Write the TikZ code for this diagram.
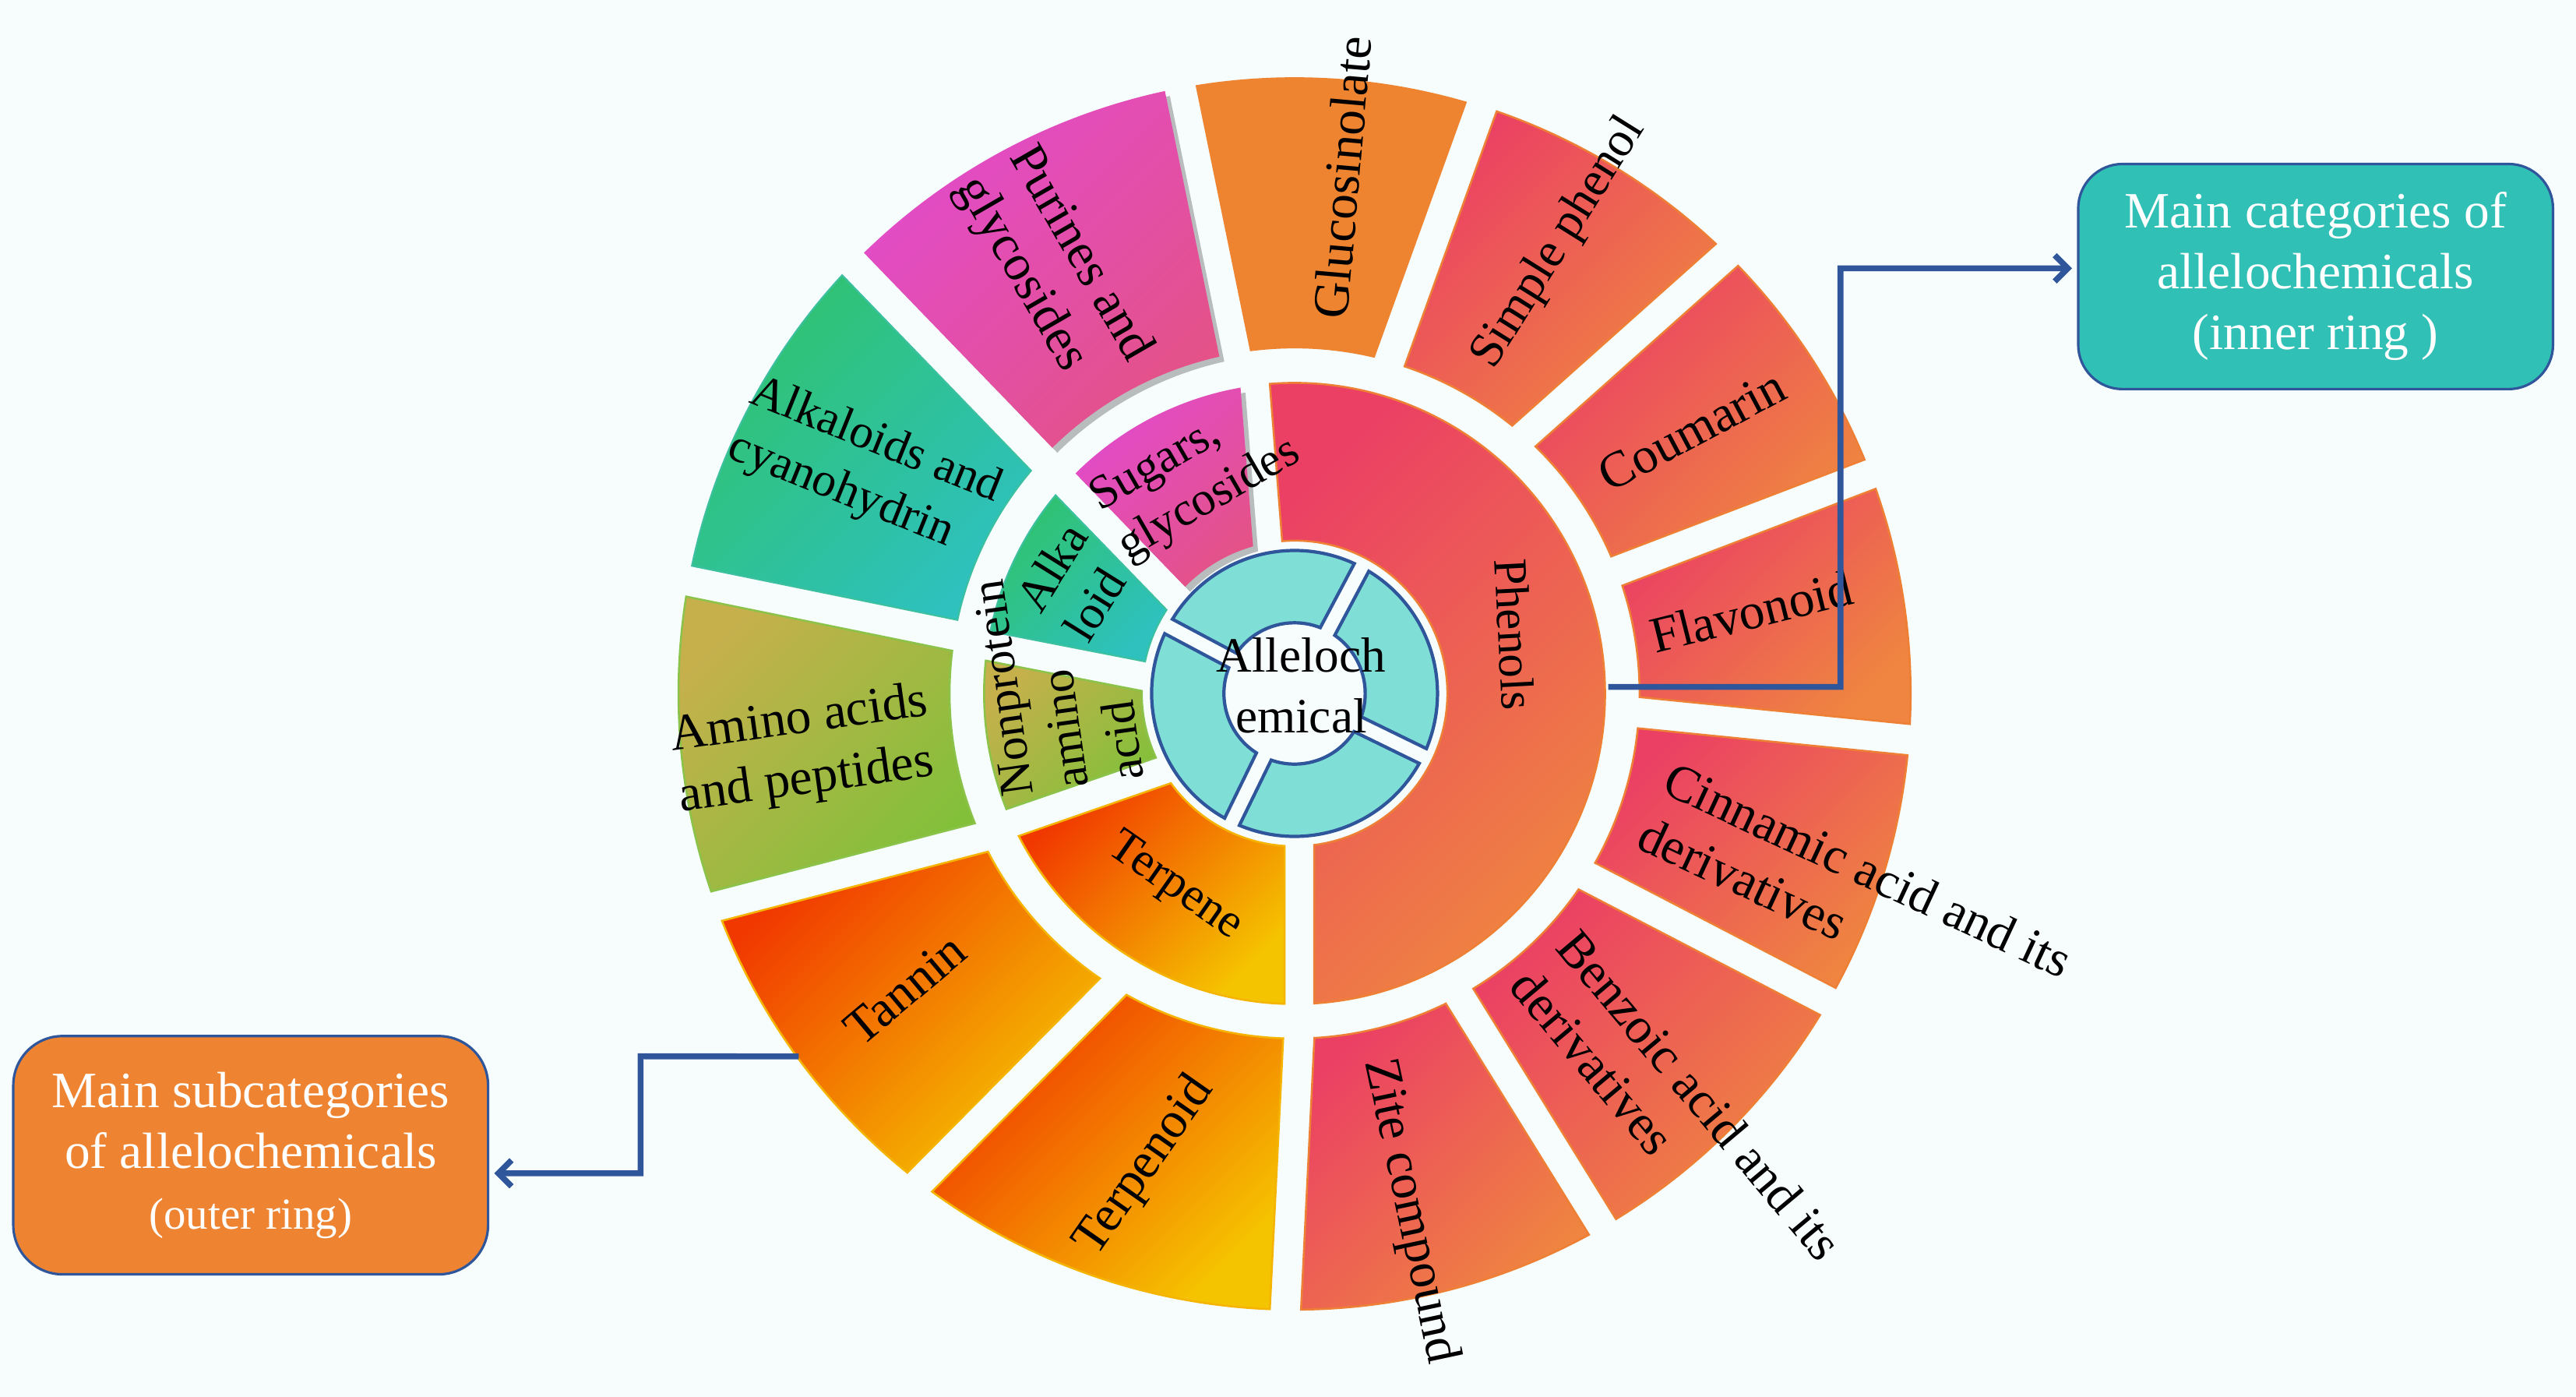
\documentclass[tikz,border=0pt]{standalone}
\usepackage{fontspec}
\setmainfont{Liberation Serif}
\usetikzlibrary{arrows.meta,shadows,calc}

\definecolor{bg}{HTML}{F7FCFD}
\definecolor{redA}{HTML}{EB4064}
\definecolor{redB}{HTML}{EF8540}
\definecolor{redline}{HTML}{EE8035}
\definecolor{magA}{HTML}{E24BCC}
\definecolor{magB}{HTML}{E45288}
\definecolor{grnA}{HTML}{2FC26E}
\definecolor{grnB}{HTML}{2EC1BE}
\definecolor{grnline}{HTML}{3CC0A0}
\definecolor{oliA}{HTML}{C6B04C}
\definecolor{oliB}{HTML}{82C03A}
\definecolor{oliline}{HTML}{8BC34A}
\definecolor{orA}{HTML}{F13800}
\definecolor{orB}{HTML}{F5C400}
\definecolor{orline}{HTML}{F4B400}
\definecolor{gluc}{HTML}{EE8430}
\definecolor{tealfill}{HTML}{7FDFD6}
\definecolor{navy}{HTML}{2F559B}
\definecolor{boxteal}{HTML}{31C0B6}
\definecolor{boxorange}{HTML}{EE8432}

\newcommand\halfgap{9}
% annular sector between two gaps; each gap given by its centre angle at the
% inner radius and at the outer radius: style, a1in, a1out, a2in, a2out, rin, rout
\newcommand\annsec[7]{%
  \pgfmathsetmacro\secdin{asin(\halfgap/#6)}%
  \pgfmathsetmacro\secdout{asin(\halfgap/#7)}%
  \path[#1] ({#3+\secdout}:#7) arc[start angle={#3+\secdout}, end angle={#5-\secdout}, radius=#7]
     -- ({#4-\secdin}:#6) arc[start angle={#4-\secdin}, end angle={#2+\secdin}, radius=#6] -- cycle;
}

\begin{document}
\begin{tikzpicture}[x=1pt,y=1pt,
  redseg/.style={top color=redA, bottom color=redB, shading angle=45, draw=redline, line width=1.2},
  magseg/.style={top color=magA, bottom color=magB, shading angle=45},
  grnseg/.style={top color=grnA, bottom color=grnB, shading angle=45, draw=grnline, line width=1},
  oliseg/.style={top color=oliA, bottom color=oliB, shading angle=45, draw=oliline, line width=1.2},
  orseg/.style={top color=orA, bottom color=orB, shading angle=45, draw=orline, line width=1.2},
  glucseg/.style={fill=gluc},
  tealseg/.style={fill=tealfill, draw=navy, line width=2},
  shadowed/.style={drop shadow={shadow xshift=3pt, shadow yshift=-3pt, opacity=0.25, fill=black}},
  olbl/.style={font=\fontsize{31}{37}\selectfont, inner sep=0pt, align=left},
  mlbl/.style={font=\fontsize{29}{34}\selectfont, inner sep=0pt, align=left},
  clbl/.style={font=\fontsize{30}{37}\selectfont, inner sep=0pt, align=center},
  boxbase/.style={rounded corners=27pt, line width=1.5pt, draw=navy, text=white,
     font=\fontsize{31}{37}\selectfont, align=center, minimum width=289pt, inner sep=0pt},
  conn/.style={draw=navy, line width=3.6pt, -{Straight Barb[length=8pt,width=16pt]}, shorten >=3pt}
]
\useasboundingbox (-788,-428) rectangle (780,422);
\fill[bg] (-788,-428) rectangle (780,422);

% outer ring (gaps: inner angle / outer angle)
\renewcommand\halfgap{9.5}
\annsec{glucseg}{74}{72.3}{100}{100.7}{210}{375}
\annsec{redseg}{48.3}{45.4}{74}{72.3}{210}{375}
\annsec{redseg}{20.8}{20.85}{48.3}{45.4}{210}{375}
\annsec{redseg}{-3.2}{-4.3}{20.8}{20.85}{210}{375}
\annsec{redseg}{-32}{-30}{-3.2}{-4.3}{210}{375}
\annsec{redseg}{-61.4}{-60}{-32}{-30}{210}{375}
\annsec{redseg}{-89.3}{-90.85}{-61.4}{-60}{210}{375}
\annsec{orseg}{-121.75}{-127.5}{-89.3}{-90.85}{210}{375}
\annsec{orseg}{-155.3}{-159.8}{-121.75}{-127.5}{210}{375}
\annsec{oliseg}{170.3}{169.5}{204.7}{200.2}{210}{375}
\annsec{grnseg}{137.2}{135.8}{170.3}{169.5}{210}{375}
\annsec{magseg,shadowed}{100}{100.7}{137.2}{135.8}{210}{375}

% middle ring
\renewcommand\halfgap{9}
\annsec{redseg}{-88.2}{-89.1}{100.2}{97.3}{93}{189}
\annsec{magseg,shadowed}{100.2}{97.3}{141.3}{137.6}{93}{189}
\annsec{grnseg}{141.3}{137.6}{173.5}{171.2}{93}{189}
\annsec{oliseg}{173.5}{171.2}{210.4}{204.6}{93}{189}
\annsec{orseg}{210.4}{204.6}{271.8}{270.9}{93}{189}

% inner ring
\renewcommand\halfgap{5}
\annsec{tealseg}{62}{62}{152}{152}{43}{87}
\annsec{tealseg}{152}{152}{244}{244}{43}{87}
\annsec{tealseg}{244}{244}{334}{334}{43}{87}
\annsec{tealseg}{334}{334}{422}{422}{43}{87}

% outer labels
\node[olbl, rotate=85] (lglu) at (29,314) {Glucosinolate};
\node[olbl, rotate=58, font=\fontsize{30}{36}\selectfont] (lsph) at (161,274) {Simple phenol};
\node[olbl, rotate=28] (lcou) at (242,160) {Coumarin};
\node[olbl, rotate=14] (lfla) at (278,50) {Flavonoid};
\node[olbl, rotate=-25, anchor=west] (lcin) at (219,-67) {Cinnamic acid and its\\derivatives};
\node[olbl, rotate=-50, anchor=west] (lben) at (152,-160) {Benzoic acid and its\\derivatives};
\node[olbl, rotate=-78] (lzit) at (70,-315) {Zite compound};
\node[olbl, rotate=55] (ltpd) at (-91,-288) {Terpenoid};
\node[olbl, rotate=40] (ltan) at (-237,-180) {Tannin};
\node[olbl, rotate=8, anchor=west] (lami) at (-377,-46) {Amino acids\\and peptides};
\node[olbl, rotate=-22, anchor=west, font=\fontsize{29}{36}\selectfont] (lalk) at (-337,167) {Alkaloids and\\cyanohydrin};
\node[olbl, rotate=-60] (lpur) at (-147,258) {Purines and\\glycosides};

% middle labels
\node[mlbl, rotate=-87] (lphe) at (134,36) {Phenols};
\node[mlbl, rotate=30] (lsug) at (-60,132) {Sugars,\\glycosides};
\node[mlbl, rotate=58] (lalo) at (-133.5,68) {Alka\\loid};
\node[mlbl, rotate=98] (lnpa) at (-144,8) {Nonprotein\\amino\\acid};
\node[mlbl, rotate=-35] (lter) at (-73,-118) {Terpene};
\node[clbl] (lctr) at (4,5) {Alleloch\\emical};

% callout boxes
\node[boxbase, fill=boxteal, minimum height=137pt] (catbox) at (621.5,253.7)
  {Main categories of\\allelochemicals\\(inner ring )};
\node[boxbase, fill=boxorange, minimum height=145pt, rounded corners=30pt] (subbox) at (-635.4,-281)
  {Main subcategories\\of allelochemicals\\{\fontsize{27}{37}\selectfont (outer ring)}};

% connectors
\coordinate (ph) at (1.2:191);
\coordinate (el1) at (332.3,4);
\draw[conn] (ph) -- (el1) |- ([yshift=5pt]catbox.west);
\coordinate (tn) at (216.2:374);
\coordinate (el2) at (-398.1,-220.8);
\draw[conn] (tn) -- (el2) |- ([yshift=-11pt]subbox.east);
\end{tikzpicture}
\end{document}
